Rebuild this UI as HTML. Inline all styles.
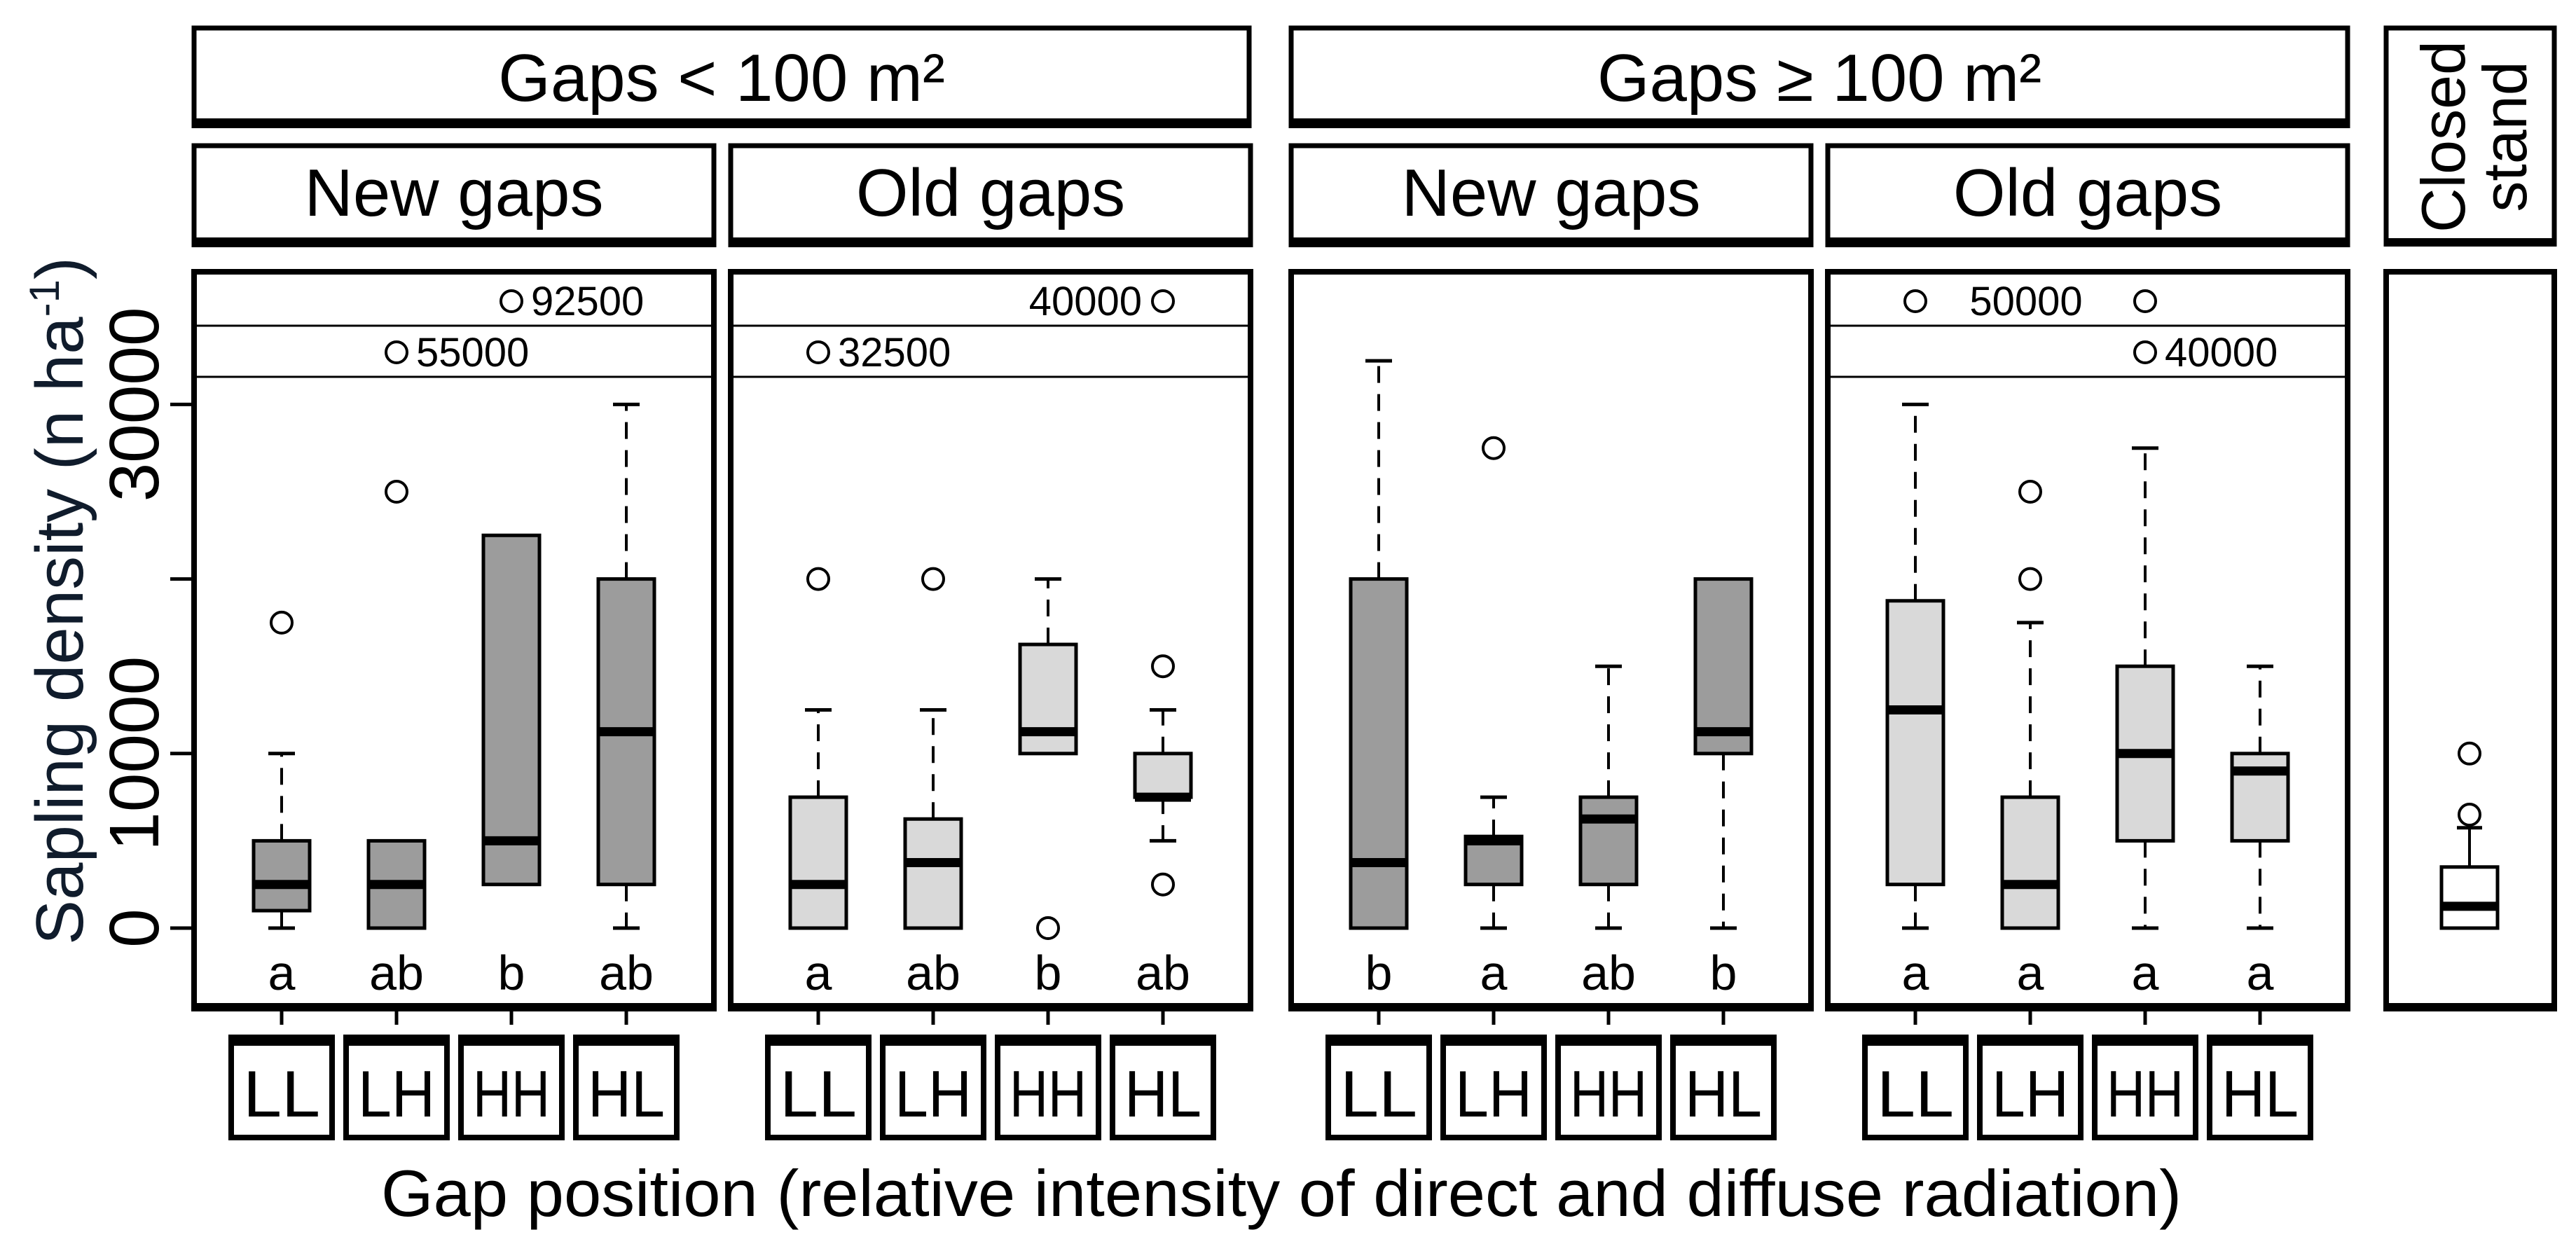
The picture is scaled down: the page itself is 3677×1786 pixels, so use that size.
<!DOCTYPE html>
<html><head><meta charset="utf-8">
<style>
html,body{margin:0;padding:0;background:#fff;}
svg{display:block;font-family:"Liberation Sans",sans-serif;}
</style></head>
<body>
<svg id="chart" width="3677" height="1786" viewBox="0 0 3677 1786" xmlns="http://www.w3.org/2000/svg">
<g id="frame"></g>
</svg>
<script>
// ---- data ----
const categories = ["LL","LH","HH","HL"];
const panelTitles = ["New gaps","Old gaps","New gaps","Old gaps"];
const groupTitles = ["Gaps < 100 m²","Gaps ≥ 100 m²"];
const yTicks = [0,10000,20000,30000];
const yTickLabels = ["0","10000","","30000"];
// per panel, per category
const wlo = [[0,0,2500,0],[0,0,10000,5000],[0,0,0,0],[0,0,0,0]];
const q1  = [[1000,0,2500,2500],[0,0,10000,7500],[0,2500,2500,10000],[2500,0,5000,5000]];
const med = [[2500,2500,5000,11250],[2500,3750,11250,7500],[3750,5000,6250,11250],[12500,2500,10000,9000]];
const q3  = [[5000,5000,22500,20000],[7500,6250,16250,10000],[20000,5250,7500,20000],[18750,7500,15000,10000]];
const whi = [[10000,5000,22500,30000],[12500,12500,20000,12500],[32500,7500,15000,20000],[30000,17500,27500,15000]];
const outliers = [[[17500],[25000],[],[]],[[20000],[20000],[0],[15000,2500]],[[],[27500],[],[]],[[],[25000,20000],[],[]]];
const letters = [["a","ab","b","ab"],["a","ab","b","ab"],["b","a","ab","b"],["a","a","a","a"]];
const hasBreak = [true,true,false,true];
// closed stand
const closedStats = [0,0,1250,3500,5750];   // wlo,q1,med,q3,whi
const closedOutliers = [6500,10000];
// extreme values shown in break rows
const breakPanels = [0,0,1,1,3,3,3];
const breakCats   = [2,1,0,3,0,2,2];
const breakRows   = [0,1,1,0,0,0,1];
const breakLabels = ["92500","55000","32500","40000","","","40000"];

// ---- layout ----
const panelLeft = [277,1043,1843,2609];
const panelW = 742;
const panelTop = 388, panelBot = 1438;
const catStep = 164, catOff = 125, boxW = 80;
const fills = ["#9c9c9c","#d9d9d9","#9c9c9c","#d9d9d9"];
function y(v){ return 1325 - v*0.02492; }
function cx(p,i){ return panelLeft[p]+catOff+i*catStep; }

const NS="http://www.w3.org/2000/svg";
const svg=document.getElementById('chart');
function el(tag,attrs,parent){const e=document.createElementNS(NS,tag);for(const k in attrs)e.setAttribute(k,attrs[k]);(parent||svg).appendChild(e);return e;}
function txt(s,attrs,parent){const e=el('text',attrs,parent);e.textContent=s;return e;}
function frameBox(x1,y1,x2,y2,parent,thin,thick){
  el('rect',{x:x1,y:y1,width:x2-x1,height:y2-y1,fill:'none',stroke:'#000','stroke-width':thin},parent);
  el('line',{x1:x1-thin/2,x2:x2+thin/2,y1:y2,y2:y2,stroke:'#000','stroke-width':thick},parent);
}

// group headers
const hdrX=[[277,1783],[1843,3351]];
for(let g=0; g<2; g++){
  const gh=el('g',{});
  
  
  frameBox(hdrX[g][0],40,hdrX[g][1],176,gh,7,14);
  txt(groupTitles[g],{x:(hdrX[g][0]+hdrX[g][1])/2,y:144,'font-size':96,'text-anchor':'middle'},gh);
}
// closed stand header
{
  const gh=el('g',{});
  
  
  frameBox(3406,40,3646,346,gh,7,12);
  const t=el('text',{transform:'translate(3518,195) rotate(-90)','font-size':88,'text-anchor':'middle'},gh);
  t.textContent='Closed';
  const t2=el('text',{transform:'translate(3606,195) rotate(-90)','font-size':88,'text-anchor':'middle'},gh);
  t2.textContent='stand';
}

for(let p=0;p<4;p++){
  const L=panelLeft[p], R=L+panelW;
  const sh=el('g',{});
  
  
  frameBox(L,208,R,346,sh,7,14);
  txt(panelTitles[p],{x:(L+R)/2,y:308,'font-size':96,'text-anchor':'middle'},sh);

  const pg=el('g',{});
  
  
  if(hasBreak[p]){
    el('line',{x1:L,x2:R,y1:465,y2:465,stroke:'#000','stroke-width':3},pg);
    el('line',{x1:L,x2:R,y1:538,y2:538,stroke:'#000','stroke-width':3},pg);
  }
  for(let i=0;i<4;i++){
    const x=cx(p,i);
    const bg=el('g',{},pg);
    
    
    const capW=38;
    if(whi[p][i]>q3[p][i]){
      el('line',{x1:x,x2:x,y1:y(q3[p][i]),y2:y(whi[p][i]),stroke:'#000','stroke-width':4,'stroke-dasharray':'24,16'},bg);
      el('line',{x1:x-capW/2,x2:x+capW/2,y1:y(whi[p][i]),y2:y(whi[p][i]),stroke:'#000','stroke-width':5},bg);
    }
    if(wlo[p][i]<q1[p][i]){
      el('line',{x1:x,x2:x,y1:y(q1[p][i]),y2:y(wlo[p][i]),stroke:'#000','stroke-width':4,'stroke-dasharray':'24,16'},bg);
      el('line',{x1:x-capW/2,x2:x+capW/2,y1:y(wlo[p][i]),y2:y(wlo[p][i]),stroke:'#000','stroke-width':5},bg);
    }
    el('rect',{x:x-boxW/2,y:y(q3[p][i]),width:boxW,height:y(q1[p][i])-y(q3[p][i]),fill:fills[p],stroke:'#000','stroke-width':5},bg);
    el('line',{x1:x-boxW/2,x2:x+boxW/2,y1:y(med[p][i]),y2:y(med[p][i]),stroke:'#000','stroke-width':13},bg);
    for(const o of outliers[p][i]){
      const c=el('circle',{cx:x,cy:y(o),r:15,fill:'none',stroke:'#000','stroke-width':4},bg);
      
      
    }
    const lt=txt(letters[p][i],{x:x,y:1413,'font-size':70,'text-anchor':'middle'},pg);
    
    
    el('line',{x1:x,x2:x,y1:panelBot,y2:1463,stroke:'#000','stroke-width':5});
    const cb=el('g',{});
    
    
    el('rect',{x:x-72,y:1482,width:144,height:142,fill:'none',stroke:'#000','stroke-width':8},cb);
    el('rect',{x:x-76,y:1477,width:152,height:16,fill:'#000'},cb);
    txt(categories[i],{x:x,y:1594,'font-size':94,'text-anchor':'middle',textLength:110,lengthAdjust:'spacingAndGlyphs'},cb);
  }
  frameBox(L,panelTop,R,panelBot,pg,8,12);
}

// break-row extreme values
for(let k=0;k<breakPanels.length;k++){
  const x=cx(breakPanels[k],breakCats[k]);
  const yy=breakRows[k]===0?430:503;
  const c=el('circle',{cx:x,cy:yy,r:15,fill:'none',stroke:'#000','stroke-width':4});
  
  
  if(breakLabels[k]){
    const leftSide = (breakPanels[k]===1 && breakCats[k]===3);
    const t=txt(breakLabels[k],{x:leftSide?x-30:x+28,y:yy+20,'font-size':58,'text-anchor':leftSide?'end':'start'});
    
    
  }
}
{
  const t=txt("50000",{x:2892,y:450,'font-size':58,'text-anchor':'middle'});
  
  
}

// closed stand panel
{
  const pg=el('g',{});
  
  
  const x=3525;
  const [lo,a,m,b,hi]=closedStats;
  el('line',{x1:x,x2:x,y1:y(b),y2:y(hi),stroke:'#000','stroke-width':4},pg);
  el('line',{x1:x-18,x2:x+18,y1:y(hi),y2:y(hi),stroke:'#000','stroke-width':5},pg);
  el('rect',{x:x-40,y:y(b),width:80,height:y(a)-y(b),fill:'#fff',stroke:'#000','stroke-width':5},pg);
  el('line',{x1:x-40,x2:x+40,y1:y(m),y2:y(m),stroke:'#000','stroke-width':13},pg);
  for(const o of closedOutliers){
    const c=el('circle',{cx:x,cy:y(o),r:15,fill:'none',stroke:'#000','stroke-width':4},pg);
    
    
  }
  frameBox(3406,panelTop,3646,panelBot,pg,8,12);
}

// y axis
{
  const ag=el('g',{});
  
  
  for(let i=0;i<yTicks.length;i++){
    el('line',{x1:243,x2:277,y1:y(yTicks[i]),y2:y(yTicks[i]),stroke:'#000','stroke-width':5},ag);
    if(yTickLabels[i]){
      const t=el('text',{transform:`translate(226,${y(yTicks[i])}) rotate(-90)`,'font-size':100,'text-anchor':'middle'},ag);
      t.textContent=yTickLabels[i];
    }
  }
  const yt=el('text',{transform:'translate(118,858) rotate(-90)','font-size':96,'text-anchor':'middle',fill:'#101c2c'});
  
  
  yt.textContent='Sapling density (n ha';
  const ts=el('tspan',{'font-size':60,dy:-34},yt); ts.textContent='-1';
  const ts2=el('tspan',{dy:34},yt); ts2.textContent=')';
}
// x title
{
  const t=txt('Gap position (relative intensity of direct and diffuse radiation)',{x:1829,y:1736,'font-size':94,'text-anchor':'middle',textLength:2570,lengthAdjust:'spacingAndGlyphs'});
  
  
}
</script>
</body></html>
